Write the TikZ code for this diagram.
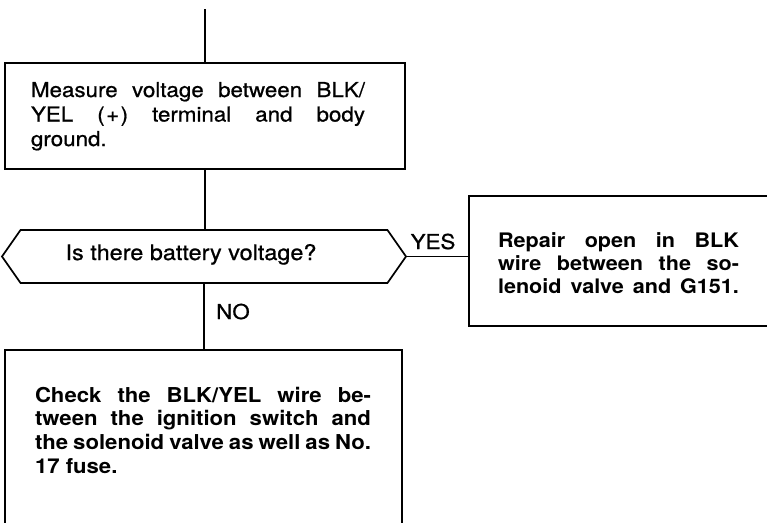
\documentclass[tikz,border=0pt]{standalone}
\usepackage{fontspec}
\setmainfont{TeX Gyre Heros}[FakeStretch=1.08]
\newfontfamily\medfont{TeX Gyre Heros}[FakeStretch=1.09,FakeBold=0.8]
\usetikzlibrary{shapes.symbols}
\begin{document}
\begin{tikzpicture}[x=1pt,y=-1pt,line width=1.7pt,
  box/.style={draw,rectangle,inner sep=0pt,outer sep=0pt,anchor=north west},
  txt/.style={inner sep=0pt,outer sep=0pt,anchor=north west,align=left},
  lbl/.style={inner sep=0pt,anchor=base,font=\medfont\fontsize{20.5}{24}\selectfont},
  conn/.style={draw,line width=1.7pt}]
\clip (0,0) rectangle (767,522);
% boxes
\node[box,minimum width=400pt,minimum height=106pt] (b1) at (5,63) {};
\node[draw,signal,signal to=west and east,signal pointer angle=110,
      inner sep=0pt,outer sep=0pt,minimum width=404pt,minimum height=53pt,
      anchor=west] (q) at (2,256.5) {};
\node[box,minimum width=330pt,minimum height=130pt] (b2) at (469,196) {};
\node[box,minimum width=397pt,minimum height=220pt] (b3) at (5,350) {};
\coordinate (top) at (205,9);
% connectors
\draw[conn] (top) -- (b1.north);
\draw[conn] (b1.south) -- (b1.south |- q.north);
\draw[conn] (q.east) -- (q.east -| b2.west);
\draw[conn] (q.south) -- (q.south |- b3.north);
% labels
\node[lbl] (yes) at (433,249) {YES};
\node[lbl] (no) at (233,319) {NO};
% texts
\node[txt,font=\medfont\fontsize{20.5}{24.5}\selectfont] (t1) at (31,81)
  {\rule{0pt}{16pt}\makebox[334pt][s]{Measure voltage between BLK/}\\
   \makebox[334pt][s]{YEL (\kern1.5pt+\kern1.5pt) terminal and body}\\
   \makebox[334pt][l]{ground.}};
\node[lbl,font=\medfont\fontsize{21.5}{24}\selectfont] (qt) at (191,260) {Is there battery voltage?};
\node[txt,font=\fontsize{20}{23}\bfseries\selectfont] (t2) at (498,231)
  {\rule{0pt}{16pt}\makebox[241pt][s]{Repair open in BLK}\\
   \makebox[241pt][s]{wire between the so-}\\
   \makebox[241pt][s]{lenoid valve and G151.}};
\node[txt,font=\fontsize{20.5}{23.7}\bfseries\selectfont] (t3) at (35,386)
  {\rule{0pt}{16pt}\makebox[336pt][s]{Check the BLK/YEL wire be-}\\
   \makebox[336pt][s]{tween the ignition switch and}\\
   \makebox[336pt][s]{the solenoid valve as well as No.}\\
   \makebox[336pt][l]{17 fuse.}};
\end{tikzpicture}
\end{document}
